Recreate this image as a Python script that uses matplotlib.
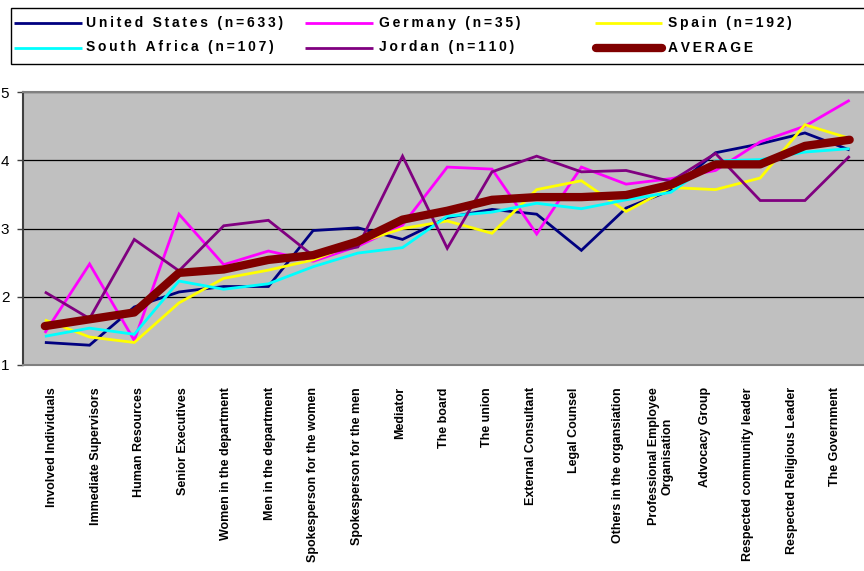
import matplotlib
matplotlib.use("Agg")
import matplotlib.pyplot as plt
from matplotlib.lines import Line2D
from matplotlib.patches import Rectangle

categories = [
    "Involved Individuals", "Immediate Supervisors", "Human Resources",
    "Senior Executives", "Women in the department", "Men in the department",
    "Spokesperson for the women", "Spokesperson for the men", "Mediator",
    "The board", "The union", "External Consultant", "Legal Counsel",
    "Others in the organsiation", "Professional Employee\nOrganisation",
    "Advocacy Group", "Respected community leader", "Respected Religious Leader",
    "The Government",
]

united_states = [1.33, 1.29, 1.85, 2.07, 2.15, 2.15, 2.97, 3.01, 2.84, 3.16, 3.28,
                 3.21, 2.68, 3.30, 3.56, 4.11, 4.24, 4.40, 4.15]
germany = [1.47, 2.48, 1.36, 3.21, 2.47, 2.67, 2.52, 2.74, 3.05, 3.90, 3.87,
           2.92, 3.90, 3.65, 3.73, 3.85, 4.27, 4.50, 4.88]
spain = [1.66, 1.41, 1.33, 1.91, 2.27, 2.39, 2.54, 2.79, 3.00, 3.11, 2.93,
         3.57, 3.70, 3.25, 3.60, 3.57, 3.74, 4.52, 4.32]
south_africa = [1.42, 1.54, 1.45, 2.23, 2.11, 2.19, 2.44, 2.64, 2.72, 3.18, 3.24,
                3.37, 3.29, 3.42, 3.53, 3.99, 4.01, 4.12, 4.17]
jordan = [2.07, 1.68, 2.84, 2.38, 3.04, 3.12, 2.60, 2.73, 4.06, 2.71, 3.83,
          4.06, 3.83, 3.85, 3.69, 4.10, 3.41, 3.41, 4.06]
average = [1.57, 1.67, 1.77, 2.35, 2.40, 2.54, 2.61, 2.81, 3.13, 3.26, 3.42,
           3.46, 3.46, 3.49, 3.64, 3.94, 3.94, 4.21, 4.30]

series_names = ["United States (n=633)", "Germany (n=35)", "Spain (n=192)",
                "South Africa (n=107)", "Jordan (n=110)", "AVERAGE"]
series_values = [united_states, germany, spain, south_africa, jordan, average]
series_colors = ["#000080", "#FF00FF", "#FFFF00", "#00FFFF", "#800080", "#800000"]
series_widths = [2.0, 2.0, 2.0, 2.0, 2.0, 6.0]

W, H = 864, 571
fig = plt.figure(figsize=(W / 100, H / 100), dpi=100)
fig.patch.set_facecolor("white")

left_px, right_px, top_px, bottom_px = 22.5, 872, 92, 365
ax = fig.add_axes([left_px / W, 1 - bottom_px / H,
                   (right_px - left_px) / W, (bottom_px - top_px) / H])
ax.set_facecolor("#C0C0C0")

x = list(range(len(categories)))
for vals, col, lw in zip(series_values, series_colors, series_widths):
    ax.plot(x, vals, color=col, lw=lw,
            solid_capstyle="round" if lw > 3 else "butt",
            solid_joinstyle="round" if lw > 3 else "miter", zorder=3 if lw > 3 else 2)

ax.set_xlim(-0.5, len(categories) - 0.5)
ax.set_ylim(1, 5)
ax.set_yticks([1, 2, 3, 4, 5])
ax.yaxis.grid(True, color="black", lw=0.9)
ax.set_axisbelow(True)
for s in ["top", "right", "bottom"]:
    ax.spines[s].set_color("#808080")
    ax.spines[s].set_linewidth(1.5)
ax.spines["left"].set_color("#404040")
ax.spines["left"].set_linewidth(1.5)

ax.tick_params(axis="y", length=4.5, width=1, color="#404040", pad=5,
               labelsize=11)
for lab in ax.get_yticklabels():
    lab.set_fontfamily(["Liberation Sans", "DejaVu Sans"])

# category labels are laid out slightly tighter than the data points in the original
label_pos = [0.16 + i * 0.973 for i in x]
ax.set_xticks(label_pos)
ax.set_xticklabels(categories, rotation=90, fontsize=9, fontweight="bold",
                   family=["Liberation Sans", "DejaVu Sans"],
                   multialignment="center")
ax.tick_params(axis="x", length=0, pad=16)

# Legend box (manual layout to match the original)
def fx(px):
    return px / W

def fy(py):
    return 1 - py / H

fig.add_artist(Rectangle((fx(11), fy(64)), fx(872) - fx(11), fy(8) - fy(64),
                         transform=fig.transFigure, facecolor="white",
                         edgecolor="black", lw=1.0))

def spaced(s):
    return "\u2009".join(list(s))

legend_pos = [(14, 82, 86, 22.5), (305, 373, 379, 22.5), (595, 662, 668, 22.5),
              (14, 82, 86, 47.5), (305, 373, 379, 47.5), (596, 662, 668, 47.5)]
for name, col, lw, (x0, x1, tx, yy) in zip(series_names, series_colors,
                                            series_widths, legend_pos):
    fig.add_artist(Line2D([fx(x0), fx(x1)], [fy(yy), fy(yy)],
                          transform=fig.transFigure, color=col, lw=lw,
                          solid_capstyle="round" if lw > 3 else "butt"))
    fig.text(fx(tx), fy(yy), spaced(name), fontsize=10, fontweight="bold",
             family=["Liberation Sans", "DejaVu Sans"], va="center", ha="left")

fig.savefig("out.png", dpi=100)
